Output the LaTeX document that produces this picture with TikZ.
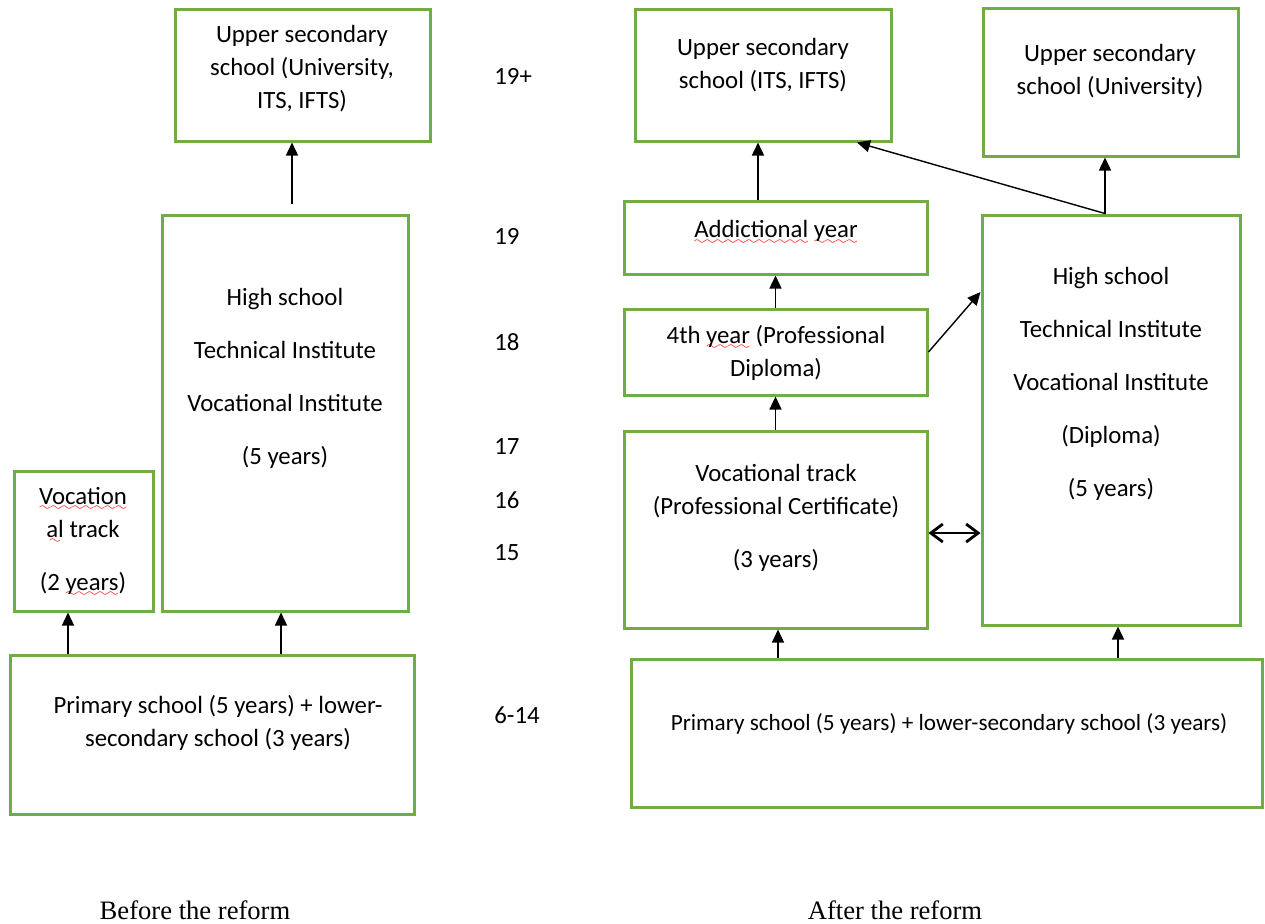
\documentclass[tikz,border=0pt]{standalone}
\usepackage{fontspec}
\setmainfont{Carlito}
\newfontfamily\capfont{Liberation Serif}
\usetikzlibrary{arrows.meta}
\definecolor{boxgreen}{HTML}{70AD47}
\font\wavefont=lasy6
\newsavebox\wavebox
\newcommand\spellwave[1]{\sbox\wavebox{#1}\rlap{\raisebox{-3.2pt}[0pt][0pt]{\textcolor{red}{\hbox to \wd\wavebox{\xleaders\hbox{\wavefont\char58}\hfil}}}}\usebox\wavebox}

\begin{document}
\begin{tikzpicture}[
    x=0.5pt, y=-0.5pt,
    box/.style   ={draw=boxgreen, line width=1.5pt, inner sep=0pt},
    txt/.style   ={align=center, inner sep=0pt, font=\fontsize{12.4}{16.5}\selectfont},
    txtw/.style  ={txt, font=\fontsize{12.4}{26.5}\selectfont},
    age/.style   ={anchor=west, inner sep=0pt, font=\fontsize{12.4}{16.5}\selectfont},
    arr/.style   ={-{Triangle[length=6.5pt,width=6pt]}, line width=0.7pt},
    darr/.style  ={{Straight Barb[length=6pt,width=9pt]}-{Straight Barb[length=6pt,width=9pt]},
                   line width=1.4pt},
    reform/.style={inner sep=0pt, font=\capfont\fontsize{13.3}{16}\selectfont},
  ]
  \useasboundingbox (0,0) rectangle (1265,923);

  % --- before the reform ---
  \node[box, minimum width=127.5pt, minimum height=66pt]  (upL)   at (302.5,75)  {};
  \node[box, minimum width=123pt,   minimum height=198pt] (hsL)   at (285,413)   {};
  \node[box, minimum width=69.5pt,  minimum height=70pt]  (vocL)  at (83.5,541)  {};
  \node[box, minimum width=202pt,   minimum height=79.5pt](primL) at (212,734.5) {};
  \node[txt]  (upLt)   at (302,69)  {Upper secondary\\school (University,\\ITS, IFTS)};
  \node[txtw] (hsLt)   at (285,378) {High school\\Technical Institute\\Vocational Institute\\(5 years)};
  \node[txt]  (vocLt)  at (83,541)  {\spellwave{Vocation}\\\spellwave{al} track\\[10pt](2 \spellwave{years})};
  \node[txt]  (primLt) at (218,723) {Primary school (5 years) + lower-\\secondary school (3 years)};
  \draw[arr] ([xshift=-7.75pt]vocL.south |- primL.north) -- ([xshift=-7.75pt]vocL.south);
  \draw[arr] ([xshift=-2pt]hsL.south |- primL.north) -- ([xshift=-2pt]hsL.south);
  \draw[arr] ([xshift=3.5pt,yshift=5pt]hsL.north) -- ([xshift=-5.25pt]upL.south);

  % --- ages ---
  \node[age] (a1) at (494,76)  {19+};
  \node[age] (a2) at (494,236) {19};
  \node[age] (a3) at (494,342) {18};
  \node[age] (a4) at (494,447) {17};
  \node[age] (a5) at (494,500) {16};
  \node[age] (a6) at (494,553) {15};
  \node[age] (a7) at (494,715) {6-14};

  % --- after the reform ---
  \node[box, minimum width=128pt,   minimum height=66pt]   (upI)   at (763,75)     {};
  \node[box, minimum width=127.5pt, minimum height=74pt]   (upU)   at (1110.5,82)  {};
  \node[box, minimum width=151.5pt, minimum height=36.5pt] (add)   at (775.5,237.5){};
  \node[box, minimum width=151.5pt, minimum height=43pt]   (four)  at (775.5,352)  {};
  \node[box, minimum width=151.5pt, minimum height=98.5pt] (vocR)  at (775.5,529.5){};
  \node[box, minimum width=129pt,   minimum height=205pt]  (hsR)   at (1111,420)   {};
  \node[box, minimum width=315.5pt, minimum height=74pt]   (primR) at (946.5,733)  {};
  \node[txt]  (upIt)   at (763,65.5)  {Upper secondary\\school (ITS, IFTS)};
  \node[txt]  (upUt)   at (1110,71.5) {Upper secondary\\school (University)};
  \node[txt]  (addT)   at (776,231)   {\spellwave{Addictional} \spellwave{year}};
  \node[txt]  (fourT)  at (776,352.5) {4th \spellwave{year} (Professional\\Diploma)};
  \node[txt]  (vocRt)  at (776,518)   {Vocational track\\(Professional Certificate)\\[10pt](3 years)};
  \node[txtw] (hsRt)   at (1111,383.5){High school\\Technical Institute\\Vocational Institute\\(Diploma)\\(5 years)};
  \node[txt, font=\fontsize{11.6}{16.5}\selectfont] (primRt) at (949,724)
    {Primary school (5 years) + lower-secondary school (3 years)};
  \draw[arr] ([xshift=-8.75pt]add.north) -- ([xshift=-2.5pt]upI.south);
  \draw[arr] (four.north) -- (add.south);
  \draw[arr] (vocR.north) -- (four.south);
  \draw[arr] (four.east) -- ([yshift=64pt]hsR.west);
  \draw[arr] ([xshift=-3pt]hsR.north) -- ([xshift=-3pt]hsR.north |- upU.south);
  \draw[arr] ([xshift=-3pt]hsR.north) -- ([xshift=47pt]upI.south);
  \draw[darr] ([yshift=-1.75pt]vocR.east) -- ([yshift=-1.75pt]vocR.east -| hsR.west);
  \draw[arr] ([xshift=1.25pt]vocR.south |- primR.north) -- ([xshift=1.25pt]vocR.south);
  \draw[arr] ([xshift=3.5pt]hsR.south |- primR.north) -- ([xshift=3.5pt]hsR.south);

  % --- captions ---
  \node[reform] (before) at (195,910) {Before the reform};
  \node[reform] (after)  at (895,910) {After the reform};
\end{tikzpicture}
\end{document}
